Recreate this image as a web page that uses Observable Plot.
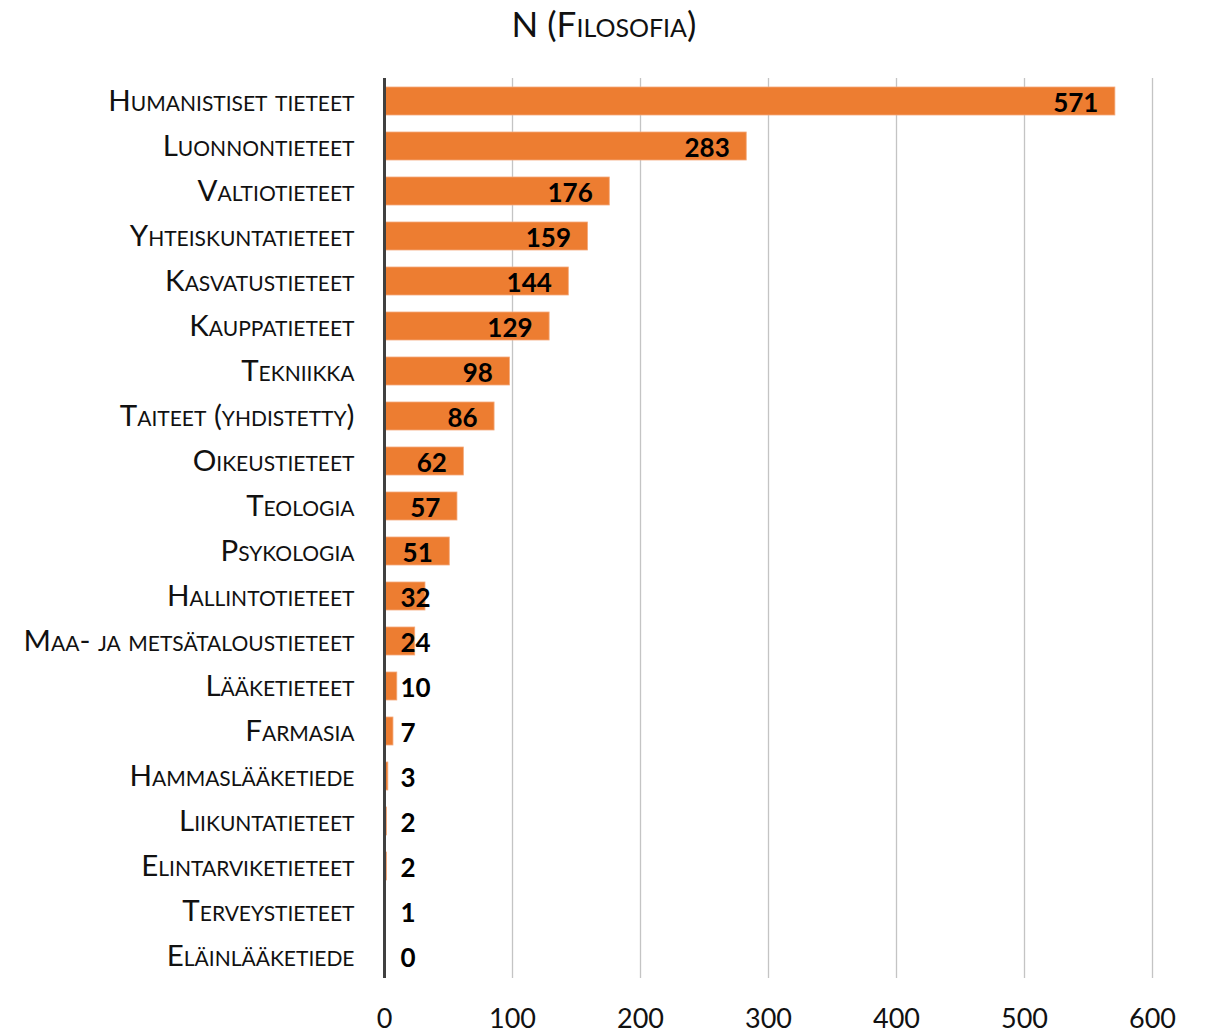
<!DOCTYPE html>
<html><head><meta charset="utf-8">
<script src="https://cdn.jsdelivr.net/npm/d3@7"></script>
<script src="https://cdn.jsdelivr.net/npm/@observablehq/plot@0.6"></script>
<style>
html,body{margin:0;padding:0;background:#fff;}
#title{height:60px;width:1208px;text-align:center;font-family:Lato,sans-serif;font-variant:small-caps;font-size:35px;line-height:46px;color:#111;overflow:hidden;}
</style></head><body>
<div id="title">N (Filosofia)</div>
<div id="chart"></div>
<script>
const categories = ["Humanistiset tieteet","Luonnontieteet","Valtiotieteet","Yhteiskuntatieteet","Kasvatustieteet","Kauppatieteet","Tekniikka","Taiteet (yhdistetty)","Oikeustieteet","Teologia","Psykologia","Hallintotieteet","Maa- ja metsätaloustieteet","Lääketieteet","Farmasia","Hammaslääketiede","Liikuntatieteet","Elintarviketieteet","Terveystieteet","Eläinlääketiede"];
const values = [571,283,176,159,144,129,98,86,62,57,51,32,24,10,7,3,2,2,1,0];
const xTicks = [0,100,200,300,400,500,600];
const data = categories.map((c,i)=>({field:c, n:values[i]}));
const chart = Plot.plot({
  width:1208, height:973, marginTop:18, marginBottom:55, marginLeft:384, marginRight:56,
  style:{fontFamily:"Lato, sans-serif", fontVariant:"small-caps", background:"#fff", color:"#111"},
  x:{domain:[0,600], axis:null},
  y:{domain:categories, paddingInner:0.38, paddingOuter:0.19, axis:null},
  marks:[
    Plot.gridX(xTicks.slice(1), {stroke:"#c4c4c4", strokeOpacity:1, strokeWidth:1.3}),
    Plot.barX(data,{x:"n", y:"field", fill:"#ED7D31", stroke:"#F4A97A", strokeWidth:0.8}),
    Plot.ruleX([0],{stroke:"#404040", strokeWidth:3}),
    Plot.axisX(xTicks, {tickSize:0, tickPadding:30, fontSize:27, label:null, fill:"#111"}),
    Plot.axisY({tickSize:0, tickPadding:30, fontSize:29.5, label:null, fill:"#111"}),
    Plot.text(data.filter(d=>d.n>=50), {x:"n", y:"field", text:d=>String(d.n), textAnchor:"end", dx:-17, dy:2, fontWeight:"bold", fontSize:26, fill:"#000"}),
    Plot.text(data.filter(d=>d.n<50), {x:()=>0, y:"field", text:d=>String(d.n), textAnchor:"start", dx:16, dy:2, fontWeight:"bold", fontSize:26, fill:"#000"})
  ]
});
document.getElementById("chart").appendChild(chart);
</script>
</body></html>
